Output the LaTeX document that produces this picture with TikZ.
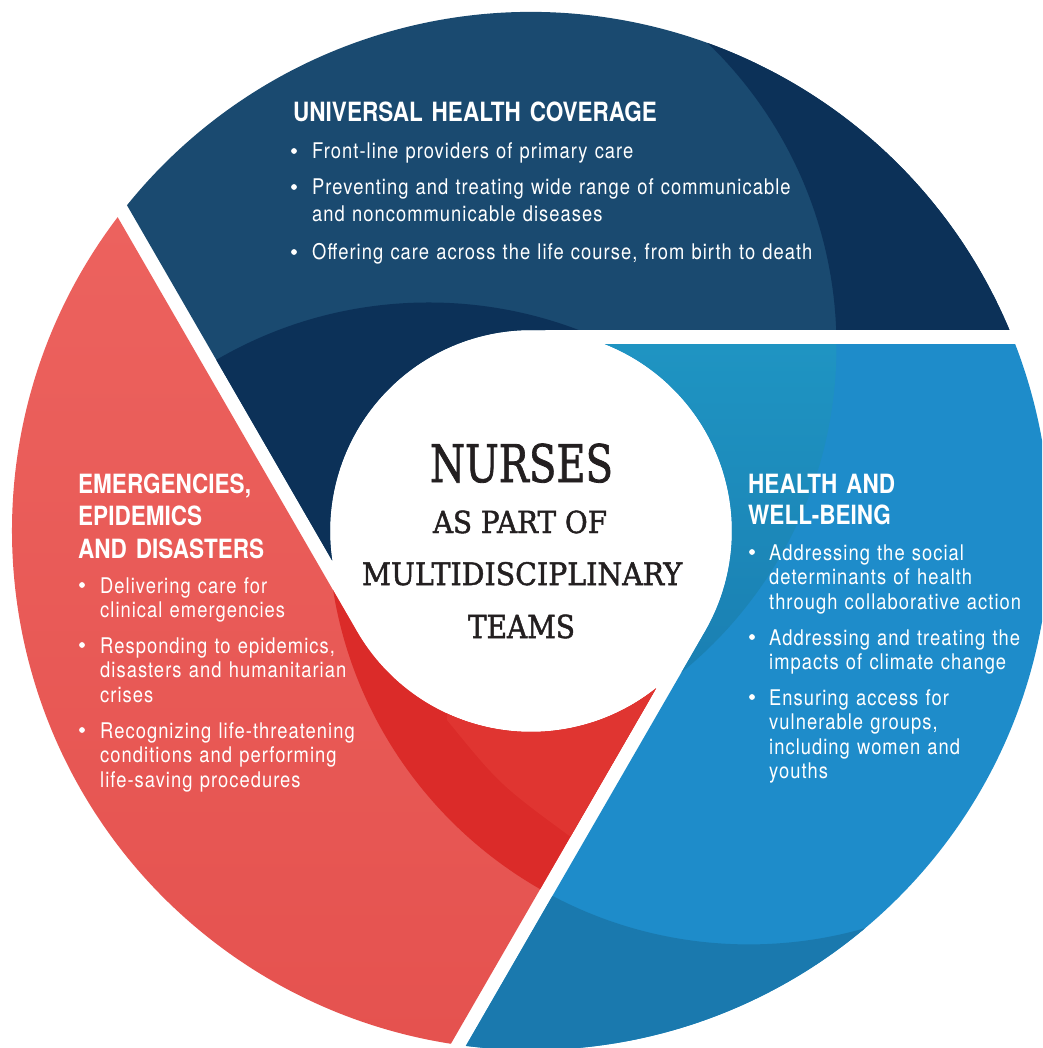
\documentclass[tikz,border=0pt]{standalone}
\usepackage{fontspec}
\usepackage{graphicx}
\newfontfamily\headfont{TeX Gyre Heros}[FakeStretch=0.85]
\newfontfamily\bodyfont{TeX Gyre Heros}[FakeStretch=0.85,LetterSpace=4.8]
\newfontfamily\slabfont{DejaVu Serif}[BoldFont={DejaVu Serif}, BoldFeatures={FakeBold=1.6}]
\definecolor{navyL}{HTML}{1A4A70}
\definecolor{navyD}{HTML}{0C3158}
\definecolor{redLt}{HTML}{EC625E}
\definecolor{redLb}{HTML}{E5524F}
\definecolor{redD}{HTML}{DB2B29}
\definecolor{redM}{HTML}{E03531}
\definecolor{blueM}{HTML}{1E8CCA}
\definecolor{blueT}{HTML}{1F95C3}
\definecolor{blueB}{HTML}{1A7FB2}
\definecolor{blueD}{HTML}{1A79AE}
\definecolor{ink}{HTML}{231F20}
% one segment of the ring, rotated by #1 degrees (image angles, clockwise)
\newcommand\segshape[1]{(#1-90:201) -- (#1-22.79:519) arc[start angle=#1-22.79, end angle=#1-141.12, radius=519] -- (#1+171.53:201) arc[start angle=#1+171.53, end angle=#1+270, radius=201] -- cycle}
\tikzset{
  headtxt/.style={font=\headfont\bfseries\fontsize{26.5}{32.5}\selectfont, text=white, align=left, text width=500pt, inner sep=0pt, anchor=base west},
  bodyN/.style={font=\bodyfont\fontsize{21.6}{27}\selectfont, text=white, align=left, text width=560pt, inner sep=0pt, anchor=base west},
  bodyS/.style={font=\bodyfont\fontsize{21.6}{24.5}\selectfont, text=white, align=left, text width=400pt, inner sep=0pt, anchor=base west},
  bul/.style={circle, fill=white, minimum size=5.8pt, inner sep=0pt, yshift=8pt},
  ctr/.style={text=ink, inner sep=0pt, anchor=base}
}
\begin{document}
\begin{tikzpicture}[x=1pt,y=-1pt]
\useasboundingbox (0,0) rectangle (1042,1048);
\fill[white] (0,0) rectangle (1042,1048);
\begin{scope}
\clip (0,0) rectangle (1042,1048);
\begin{scope}[shift={(531,531)}]
  % navy segment
  \fill[navyL] \segshape{0};
  \begin{scope}
    \clip \segshape{0};
    \fill[navyD] (118:218) circle[radius=421];
    \fill[navyD, even odd rule] (-700,-700) rectangle (700,700) (-122:218) circle[radius=421];
  \end{scope}
  % blue segment
  \fill[blueM] \segshape{120};
  \begin{scope}
    \clip \segshape{120};
    \begin{scope}
      \clip (-122:218) circle[radius=421];
      \shade[top color=blueT, bottom color=blueB] (50,-200) rectangle (400,150);
    \end{scope}
    \fill[blueD, even odd rule] (-700,-700) rectangle (700,700) (-2:218) circle[radius=421];
  \end{scope}
  % red segment
  \shade[top color=redLt, bottom color=redLb] \segshape{240};
  \begin{scope}
    \clip \segshape{240};
    \fill[redD] (-2:218) circle[radius=421];
    \fill[redM] (-84,189) .. controls (-31,254) .. (44,309) -- (250,100) -- (-80,60) -- cycle;
  \end{scope}
\end{scope}
\end{scope}

% centre
\node[ctr] (nurses) at (521.5,482) {\resizebox{183pt}{38.5pt}{\slabfont\bfseries NURSES}};
\node[ctr] (aspart) at (520,533) {\resizebox{174pt}{22.5pt}{\slabfont\bfseries AS PART OF}};
\node[ctr] (multi) at (522,585) {\resizebox{320pt}{23pt}{\slabfont\bfseries MULTIDISCIPLINARY}};
\node[ctr] (teams) at (521.5,638) {\resizebox{107pt}{23.5pt}{\slabfont\bfseries TEAMS}};

% universal health coverage
\node[headtxt] (uhcH) at (293,122) {UNIVERSAL HEALTH COVERAGE};
\node[bul] (uhcB1) at (294,159) {};
\node[bodyN] (uhcT1) at (312,159) {Front-line providers of primary care};
\node[bul] (uhcB2) at (294,195) {};
\node[bodyN] (uhcT2) at (312,195) {Preventing and treating wide range of communicable\\and noncommunicable diseases};
\node[bul] (uhcB3) at (294,260) {};
\node[bodyN] (uhcT3) at (312,260) {Offering care across the life course, from birth to death};

% emergencies
\node[headtxt] (emH) at (78,493) {EMERGENCIES,\\EPIDEMICS\\AND DISASTERS};
\node[bul] (emB1) at (82,593) {};
\node[bodyS] (emT1) at (100,593) {Delivering care for\\clinical emergencies};
\node[bul] (emB2) at (82,653) {};
\node[bodyS] (emT2) at (100,653) {Responding to epidemics,\\disasters and humanitarian\\crises};
\node[bul] (emB3) at (82,738) {};
\node[bodyS] (emT3) at (100,738) {Recognizing life-threatening\\conditions and performing\\life-saving procedures};

% health and well-being
\node[headtxt, font=\headfont\bfseries\fontsize{26.5}{31}\selectfont] (hwH) at (748,493) {HEALTH AND\\WELL-BEING};
\node[bul] (hwB1) at (752,560) {};
\node[bodyS] (hwT1) at (769,560) {Addressing the social\\determinants of health\\through collaborative action};
\node[bul] (hwB2) at (752,645) {};
\node[bodyS] (hwT2) at (769,645) {Addressing and treating the\\impacts of climate change};
\node[bul] (hwB3) at (752,705) {};
\node[bodyS] (hwT3) at (769,705) {Ensuring access for\\vulnerable groups,\\including women and\\youths};
\end{tikzpicture}
\end{document}
